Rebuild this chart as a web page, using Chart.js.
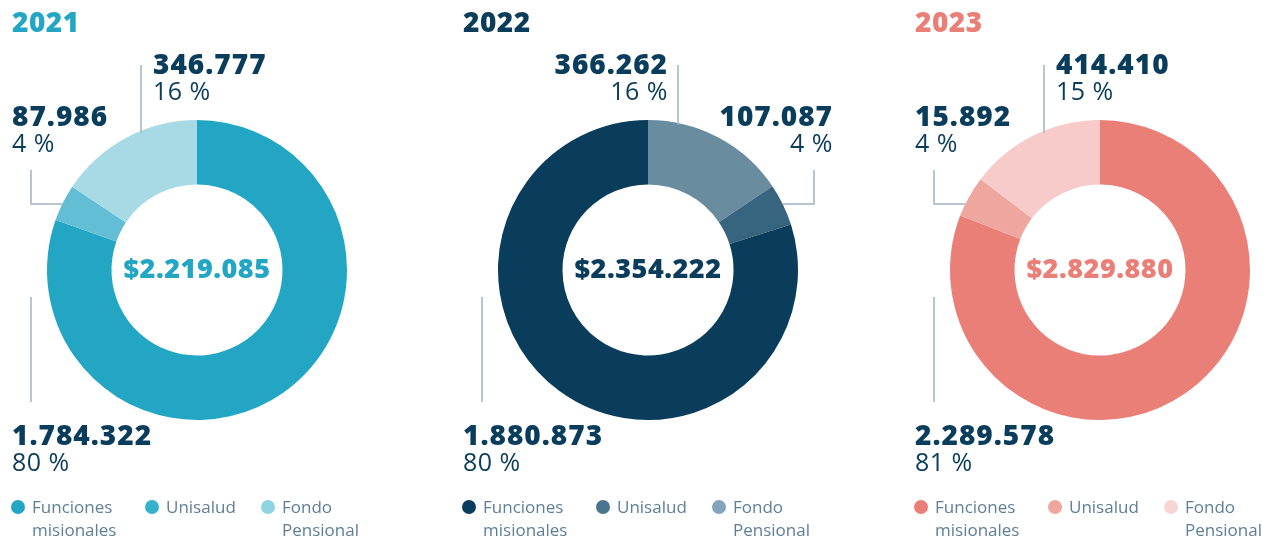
<!DOCTYPE html>
<html><head><meta charset="utf-8">
<script src="https://cdn.jsdelivr.net/npm/chart.js@4.4.1/dist/chart.umd.min.js"></script>
<style>
html,body{margin:0;padding:0;background:#fff;width:1274px;height:541px;overflow:hidden;}
.w{position:absolute;top:0;width:420px;height:541px;}
canvas{display:block;}
</style></head><body>
<div class="w" style="left:0px"><canvas id="c0" width="420" height="541"></canvas></div>
<div class="w" style="left:451px"><canvas id="c1" width="420" height="541"></canvas></div>
<div class="w" style="left:903px"><canvas id="c2" width="420" height="541"></canvas></div>
<script>
const years = ['2021', '2022', '2023'];
const categories = [['Funciones', 'misionales'], ['Unisalud'], ['Fondo', 'Pensional']];
const funciones = [1784322, 1880873, 2289578];
const unisalud = [87986, 107087, 125892];
const fondo = [346777, 366262, 414410];
const funcionesText = ['1.784.322', '1.880.873', '2.289.578'];
const unisaludText = ['87.986', '107.087', '15.892'];
const fondoText = ['346.777', '366.262', '414.410'];
const funcionesPct = ['80 %', '80 %', '81 %'];
const unisaludPct = ['4 %', '4 %', '4 %'];
const fondoPct = ['16 %', '16 %', '15 %'];
const palettes = [
  ['#23A6C4', '#62BED5', '#A7DAE5'],
  ['#0A3C5C', '#37647F', '#6A8C9F'],
  ['#EA7F78', '#EFA69F', '#F6CBCA']
];
const legendDots = [
  ['#23A6C4', '#35B2CA', '#8ED5E2'],
  ['#0A3C5C', '#4A7490', '#83A5BC'],
  ['#EA7F78', '#EFA69F', '#F6D5D4']
];
const titleColors = ['#23A6C4', '#0A3C5C', '#EA7F78'];
const NAVY = '#0A3C5C', LINE = '#9FB3C2', LEG = '#5E7F96';
const FF = '"Open Sans", sans-serif';

function fmt(n){ return String(n).replace(/\B(?=(\d{3})+(?!\d))/g, '.'); }

function block(ctx, x, y, big, small, align){
  ctx.textAlign = align; ctx.textBaseline = 'alphabetic'; ctx.fillStyle = NAVY;
  ctx.letterSpacing = '1px';
  ctx.font = '800 28px ' + FF; ctx.fillText(big, x, y);
  ctx.letterSpacing = '0.5px';
  ctx.font = '400 25px ' + FF; ctx.fillText(small, x, y + 26);
  ctx.letterSpacing = '0px';
}

const overlay = {
  id: 'overlay',
  afterDraw(chart){
    const i = chart.options.plugins.overlay.idx;
    const ctx = chart.ctx;
    const arc = chart.getDatasetMeta(0).data[0];
    const cx = arc.x, cy = arc.y, R = arc.outerRadius;
    ctx.save();
    // title
    ctx.font = '800 28px ' + FF; ctx.fillStyle = titleColors[i];
    ctx.textAlign = 'left'; ctx.textBaseline = 'alphabetic';
    ctx.letterSpacing = '0.5px';
    ctx.fillText(years[i], cx - 185, 32);
    // center total
    const tot = funciones[i] + unisalud[i] + fondo[i];
    ctx.font = '800 27px ' + FF; ctx.textAlign = 'center'; ctx.textBaseline = 'middle';
    ctx.fillStyle = titleColors[i];
    ctx.fillText('$' + fmt(tot), cx, cy);
    ctx.letterSpacing = '0px';
    // leader lines
    ctx.strokeStyle = LINE; ctx.lineWidth = 1.5;
    const side = i === 1 ? 1 : -1;
    const yU = cy - 66, xU = cx + side * Math.sqrt(R*R - 66*66), xL = cx + side * (R + 16);
    ctx.beginPath(); ctx.moveTo(xL, yU - 34); ctx.lineTo(xL, yU); ctx.lineTo(xU, yU); ctx.stroke();
    const dxF = i === 1 ? 30 : -56;
    const xF = cx + dxF;
    ctx.beginPath(); ctx.moveTo(xF, 65); ctx.lineTo(xF, cy - Math.sqrt(R*R - dxF*dxF) + 2); ctx.stroke();
    const xB = cx - R - 16;
    ctx.beginPath(); ctx.moveTo(xB, cy + 27); ctx.lineTo(xB, cy + 132); ctx.stroke();
    // labels
    if (i === 1) {
      block(ctx, cx + 20, 74, fondoText[i], fondoPct[i], 'right');
      block(ctx, cx + 185, 126, unisaludText[i], unisaludPct[i], 'right');
    } else {
      block(ctx, cx - 44, 74, fondoText[i], fondoPct[i], 'left');
      block(ctx, cx - 185, 126, unisaludText[i], unisaludPct[i], 'left');
    }
    block(ctx, cx - 185, 445, funcionesText[i], funcionesPct[i], 'left');
    // legend
    const lx = [cx - 179, cx - 45, cx + 71];
    ctx.font = '400 17px ' + FF; ctx.textAlign = 'left'; ctx.textBaseline = 'alphabetic';
    categories.forEach((lab, k) => {
      ctx.fillStyle = legendDots[i][k];
      ctx.beginPath(); ctx.arc(lx[k], 507, 7, 0, Math.PI * 2); ctx.fill();
      ctx.fillStyle = LEG;
      lab.forEach((t, j) => ctx.fillText(t, lx[k] + 14, 513 + j * 23));
    });
    ctx.restore();
  }
};

years.forEach((y, i) => {
  let vals = [funciones[i], unisalud[i], fondo[i]];
  let cols = palettes[i].slice();
  if (i === 1) { vals = vals.reverse(); cols = cols.reverse(); }
  new Chart(document.getElementById('c' + i), {
    type: 'doughnut',
    data: { labels: i === 1 ? ['Fondo Pensional','Unisalud','Funciones misionales'] : ['Funciones misionales','Unisalud','Fondo Pensional'],
      datasets: [{ data: vals, backgroundColor: cols, borderWidth: 0 }] },
    options: {
      responsive: false, animation: false, cutout: '57%',
      layout: { padding: { left: 47, right: 73, top: 120, bottom: 121 } },
      plugins: { legend: { display: false }, tooltip: { enabled: false }, overlay: { idx: i } }
    },
    plugins: [overlay]
  });
});
</script>
</body></html>
